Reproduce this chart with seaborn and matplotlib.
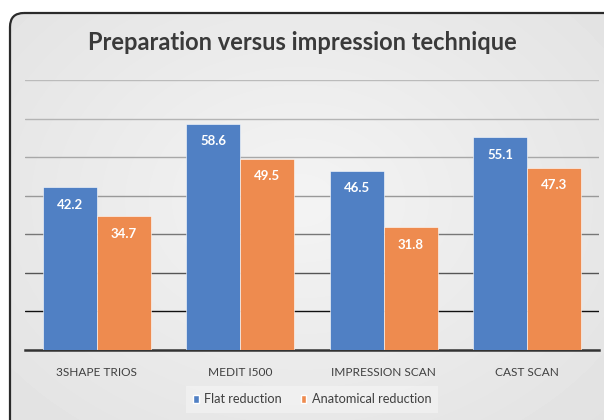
import numpy as np
import pandas as pd
import matplotlib
matplotlib.use("Agg")
import matplotlib.pyplot as plt
from matplotlib.patches import FancyBboxPatch
import seaborn as sns

# datos
categorias = ["3SHAPE TRIOS", "MEDIT I500", "IMPRESSION SCAN", "CAST SCAN"]
flat = [42.2, 58.6, 46.5, 55.1]
anatomical = [34.7, 49.5, 31.8, 47.3]
series = ["Flat reduction", "Anatomical reduction"]
colores = ["#5080c4", "#ee8b4f"]

df = pd.DataFrame({
    "cat": categorias * 2,
    "valor": flat + anatomical,
    "serie": [series[0]] * 4 + [series[1]] * 4,
})

sns.set_theme(style="white")
plt.rcParams["font.family"] = ["Lato", "DejaVu Sans"]

fig = plt.figure(figsize=(6.04, 4.20), dpi=100)
fig.patch.set_facecolor("white")

# fondo con gradiente y marco redondeado
bg = fig.add_axes([0, 0, 1, 1], zorder=0)
bg.set_xlim(0, 604)
bg.set_ylim(420, 0)
bg.axis("off")
yy, xx = np.mgrid[0:420, 0:604]
r = np.sqrt(((xx - 300) / 420) ** 2 + ((yy - 200) / 320) ** 2)
grad = 0.955 - 0.07 * r
caja = FancyBboxPatch((10, 13), 640, 450, boxstyle="round,pad=0,rounding_size=14",
                      facecolor="none", edgecolor="#2a2a2a", linewidth=1.6)
bg.add_patch(caja)
im = bg.imshow(grad, cmap="gray", vmin=0, vmax=1, extent=(0, 604, 420, 0), aspect="auto")
im.set_clip_path(caja)

ax = fig.add_axes([25 / 604, 1 - 350 / 420, 574 / 604, 270 / 420], zorder=1)
ax.patch.set_alpha(0)
sns.barplot(data=df, x="cat", y="valor", hue="serie", palette=colores,
            width=0.75, saturation=1, ax=ax, legend=True, zorder=3)

ax.set_ylim(0, 70)
ax.set_yticks(np.arange(10, 71, 10))
ax.yaxis.grid(True, linewidth=1)
grid_cols = ["#111111", "#555555", "#777777", "#999999", "#a8a8a8", "#b4b4b4", "#bbbbbb"]
for gl, c in zip(ax.get_ygridlines(), grid_cols):
    gl.set_color(c)
ax.set_axisbelow(True)
ax.tick_params(axis="y", left=False, labelleft=False)
ax.tick_params(axis="x", bottom=False, labelsize=8.6, labelcolor="#404040", pad=6)
for s in ["left", "right", "top"]:
    ax.spines[s].set_visible(False)
ax.spines["bottom"].set_color("#333333")
ax.spines["bottom"].set_linewidth(1.8)
ax.set_xlabel("")
ax.set_ylabel("")

for cont in ax.containers:
    for b in cont:
        h = b.get_height()
        ax.text(b.get_x() + b.get_width() / 2, h - 4.5, f"{h:.1f}", ha="center",
                va="center", color="white", fontsize=9.5, fontweight="bold")
        b.set_edgecolor("white")
        b.set_linewidth(0.4)

leg = ax.legend(loc="upper center", bbox_to_anchor=(0.5, -0.135), ncol=2, frameon=True,
                fontsize=9.2, handlelength=0.45, handleheight=0.6, handletextpad=0.4,
                columnspacing=1.5, borderpad=0.55, borderaxespad=0)
leg.get_frame().set_facecolor("#f2f2f2")
leg.get_frame().set_edgecolor("none")
leg.get_frame().set_boxstyle("square", pad=0)
for t in leg.get_texts():
    t.set_color("#404040")

fig.text(0.5, 1 - 50.5 / 420, "Preparation versus impression technique", ha="center",
         va="baseline", fontsize=17, fontweight="bold", color="#3a3a3a")

fig.savefig("out.png", dpi=100)
